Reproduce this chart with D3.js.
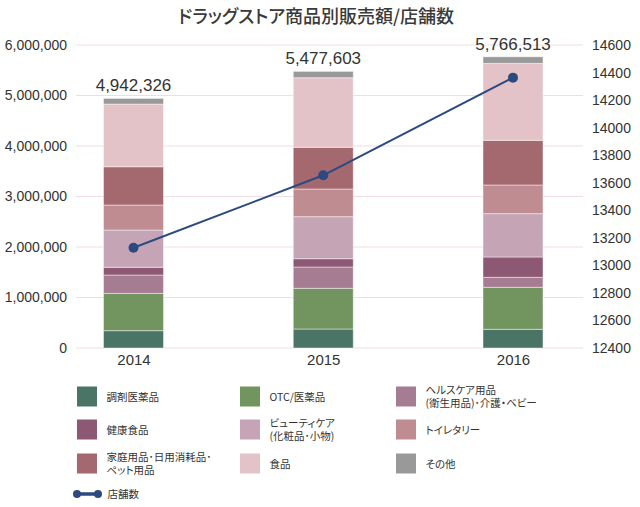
<!DOCTYPE html>
<html><head><meta charset="utf-8">
<script src="https://cdn.jsdelivr.net/npm/d3@7"></script>
<style>
body{margin:0;background:#fff;}
text{font-family:"Liberation Sans","Noto Sans CJK JP",sans-serif;fill:#333;}
.jp{font-family:"Noto Sans CJK JP",sans-serif;font-feature-settings:"palt";}
</style></head><body>
<svg id="c" width="640" height="507"></svg>
<script>
const years = ["2014","2015","2016"];
const categories = ["調剤医薬品","OTC/医薬品","ヘルスケア用品\n(衛生用品)･介護・ベビー","健康食品","ビューティケア\n(化粧品･小物)","トイレタリー","家庭用品･日用消耗品･\nペット用品","食品","その他"];
const colors = ["#4a7566","#72955f","#a67c93","#8c5873","#c5a5b5","#bf8c92","#a4696f","#e4c3c8","#999999"];
const dispensing = [343000,376000,370000];
const otc = [739000,806000,832000];
const healthcare = [363000,422000,198000];
const healthFood = [153000,164000,402000];
const beauty = [738000,832000,858000];
const toiletry = [495000,548000,568000];
const household = [758000,826000,884000];
const food = [1241000,1378000,1525000];
const other = [112326,125603,129513];
const totals = [4942326,5477603,5766513];
const stores = [13128,13654,14363];
const leftTicks = [0,1000000,2000000,3000000,4000000,5000000,6000000];
const rightTicks = [12400,12600,12800,13000,13200,13400,13600,13800,14000,14200,14400,14600];

const series = [dispensing,otc,healthcare,healthFood,beauty,toiletry,household,food,other];
const svg = d3.select("#c");
const x = d3.scalePoint().domain(years).range([133.5,513]);
const y = d3.scaleLinear().domain([0,6000000]).range([348,45]);
const y2 = d3.scaleLinear().domain([12400,14600]).range([348,45]);
const bw = 60;

svg.append("text").attr("class","jp").attr("x",316).attr("y",23).attr("text-anchor","middle")
  .style("font-size","18px").style("font-weight","500").style("fill","#3a3a3a").text("ドラッグストア商品別販売額/店舗数");

// grid
svg.append("g").selectAll("line").data(leftTicks).join("line")
  .attr("x1",76).attr("x2",583).attr("y1",d=>y(d)).attr("y2",d=>y(d))
  .attr("stroke","#eedde3").attr("stroke-width",1);

// left axis
const la = svg.append("g").attr("transform","translate(76,0)")
  .call(d3.axisLeft(y).tickValues(leftTicks).tickFormat(d3.format(",")).tickSize(0).tickPadding(9));
la.select(".domain").remove();
la.selectAll("text").style("font-size","14px").attr("fill","#333");

const ra = svg.append("g").attr("transform","translate(583,0)")
  .call(d3.axisRight(y2).tickValues(rightTicks).tickFormat(d3.format("d")).tickSize(0).tickPadding(9));
ra.select(".domain").remove();
ra.selectAll("text").style("font-size","14px").attr("fill","#333");

const xa = svg.append("g").attr("transform","translate(0,348)")
  .call(d3.axisBottom(x).tickSize(0).tickPadding(6));
xa.select(".domain").remove();
xa.selectAll("text").style("font-size","15px").attr("fill","#333");

// stacks
const rows = years.map((yr,i)=>{const o={year:yr}; series.forEach((s,k)=>o["k"+k]=s[i]); return o;});
const stack = d3.stack().keys(series.map((s,k)=>"k"+k))(rows);
svg.append("g").selectAll("g").data(stack).join("g").attr("fill",(d,i)=>colors[i])
  .selectAll("rect").data(d=>d).join("rect")
  .attr("x",d=>x(d.data.year)-bw/2).attr("width",bw)
  .attr("y",d=>y(d[1])).attr("height",d=>y(d[0])-y(d[1]))
  .attr("stroke","rgba(255,255,255,0.45)").attr("stroke-width",1);

svg.append("g").selectAll("text").data(totals).join("text")
  .attr("x",(d,i)=>x(years[i])).attr("y",d=>y(d)-7).attr("text-anchor","middle")
  .style("font-size","17px").text(d=>d3.format(",")(d));

// line
const line = d3.line().x((d,i)=>x(years[i])).y(d=>y2(d));
svg.append("path").datum(stores).attr("d",line).attr("fill","none").attr("stroke","#2a4a80").attr("stroke-width",2);
svg.append("g").selectAll("circle").data(stores).join("circle")
  .attr("cx",(d,i)=>x(years[i])).attr("cy",d=>y2(d)).attr("r",5).attr("fill","#2a4a80");

// legend
const colX = [77,240,396];
const rowY = [386.5,419.5,453.5];
const lg = svg.append("g");
categories.forEach((c,i)=>{
  const cx = colX[i%3], cy = rowY[Math.floor(i/3)];
  lg.append("rect").attr("x",cx).attr("y",cy).attr("width",20).attr("height",20).attr("fill",colors[i]);
  const lines = c.split("\n");
  if(lines.length===1){
    lg.append("text").attr("class","jp").attr("x",cx+29.5).attr("y",cy+14).style("font-size","10.5px").text(lines[0]);
  } else {
    lines.forEach((ln,j)=>{
      lg.append("text").attr("class","jp").attr("x",cx+29.5).attr("y",cy+7+j*13.5).style("font-size","10.5px").text(ln);
    });
  }
});
lg.append("line").attr("x1",77).attr("x2",98).attr("y1",494).attr("y2",494).attr("stroke","#2a4a80").attr("stroke-width",3.5);
lg.append("circle").attr("cx",77).attr("cy",494).attr("r",4).attr("fill","#2a4a80");
lg.append("circle").attr("cx",98).attr("cy",494).attr("r",4).attr("fill","#2a4a80");
lg.append("text").attr("class","jp").attr("x",107.5).attr("y",498).style("font-size","10.5px").text("店舗数");
</script></body></html>
